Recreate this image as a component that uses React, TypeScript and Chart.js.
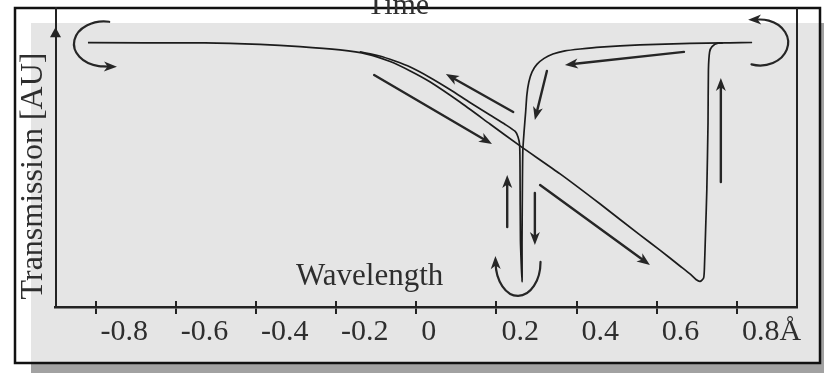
import { useEffect, useRef } from "react";
import { Chart, registerables } from "chart.js";

Chart.register(...registerables);

// Wavelength tick values (Å)
const X_TICKS = [-0.8, -0.6, -0.4, -0.2, 0, 0.2, 0.4, 0.6, 0.8];

// Forward sweep: wavelength (Å) and transmission (AU)
const FORWARD_WL = [
  -0.819, -0.527, -0.39, -0.29, -0.19, -0.123, -0.065, -0.015, 0.034, 0.109, 0.184,
  0.259, 0.359, 0.459, 0.558, 0.608, 0.658, 0.683, 0.698, 0.708, 0.717, 0.719, 0.722,
  0.725, 0.728, 0.729, 0.732, 0.738, 0.753, 0.783, 0.838,
];
const FORWARD_T = [
  0.996, 0.995, 0.989, 0.98, 0.966, 0.949, 0.918, 0.879, 0.834, 0.75, 0.659, 0.568,
  0.452, 0.327, 0.199, 0.136, 0.07, 0.037, 0.014, 0.006, 0.02, 0.062, 0.219, 0.385,
  0.663, 0.883, 0.958, 0.98, 0.994, 0.995, 0.997,
];

// Backward sweep: wavelength (Å) and transmission (AU)
const BACKWARD_WL = [
  0.765, 0.683, 0.558, 0.459, 0.409, 0.371, 0.341, 0.319, 0.301, 0.289, 0.281, 0.276,
  0.273, 0.269, 0.266, 0.265, 0.264, 0.264, 0.26, 0.259, 0.258, 0.254, 0.247, 0.222,
  0.184, 0.134, 0.084, 0.034, -0.015, -0.053, -0.091, -0.141,
];
const BACKWARD_T = [
  0.995, 0.993, 0.987, 0.978, 0.97, 0.962, 0.949, 0.931, 0.906, 0.875, 0.833, 0.779,
  0.709, 0.626, 0.551, 0.427, 0.178, 0.004, 0.178, 0.468, 0.572, 0.605, 0.628, 0.657,
  0.696, 0.748, 0.802, 0.852, 0.895, 0.92, 0.941, 0.958,
];

// Direction arrows along the sweeps: tail -> head, in axis units
const ARROW_TAIL_WL = [-0.105, 0.242, 0.326, 0.668, 0.76, 0.227, 0.296, 0.309];
const ARROW_TAIL_T = [0.862, 0.709, 0.879, 0.958, 0.418, 0.232, 0.373, 0.406];
const ARROW_HEAD_WL = [0.189, 0.074, 0.296, 0.371, 0.76, 0.227, 0.296, 0.583];
const ARROW_HEAD_T = [0.576, 0.866, 0.676, 0.904, 0.85, 0.447, 0.157, 0.074];

// Turn-around loops: centre and radii in axis units, sweep angles in degrees
const LOOP_WL = [-0.779, 0.858, 0.254];
const LOOP_T = [0.991, 0.997, 0.087];
const LOOP_R_WL = [0.0749, 0.0699, 0.0561];
const LOOP_R_T = [0.0933, 0.0954, 0.141];
const LOOP_FROM = [-80, 108, 0];
const LOOP_TO = [-268, -92, 178];
const LOOP_TAIL = [14, 11, 7];

const SERIF = '"Liberation Serif", "Times New Roman", serif';
const INK = "#232323";
const TEXT = "#2e2e2e";

function drawHead(ctx: CanvasRenderingContext2D, x: number, y: number, ang: number, len = 13, half = 5) {
  ctx.save();
  ctx.translate(x, y);
  ctx.rotate(ang);
  ctx.beginPath();
  ctx.moveTo(0, 0);
  ctx.lineTo(-len, -half);
  ctx.lineTo(-len * 0.72, 0);
  ctx.lineTo(-len, half);
  ctx.closePath();
  ctx.fill();
  ctx.restore();
}

const framePlugin = {
  id: "frame",
  beforeDraw(chart: any) {
    const ctx = chart.ctx as CanvasRenderingContext2D;
    const W = chart.width;
    const H = chart.height;
    ctx.save();
    ctx.fillStyle = "#ffffff";
    ctx.fillRect(0, 0, W, H);
    ctx.fillStyle = "#a2a2a2";
    ctx.fillRect(31, 23, W - 31, H - 23);
    ctx.fillStyle = "#e5e5e5";
    ctx.fillRect(31, 23, 788, 339);
    ctx.strokeStyle = "#111";
    ctx.lineWidth = 2.5;
    ctx.strokeRect(15, 8, 805, 355);
    ctx.restore();
  },
  afterDraw(chart: any) {
    const ctx = chart.ctx as CanvasRenderingContext2D;
    const xs = chart.scales.x;
    const ys = chart.scales.y;
    const area = chart.chartArea;
    ctx.save();

    // right frame line and upper halves of the tick marks
    ctx.strokeStyle = INK;
    ctx.lineWidth = 2;
    ctx.beginPath();
    ctx.moveTo(area.right, area.top);
    ctx.lineTo(area.right, area.bottom);
    for (const v of X_TICKS) {
      const px = Math.round(xs.getPixelForValue(v));
      ctx.moveTo(px, area.bottom - 6);
      ctx.lineTo(px, area.bottom);
    }
    ctx.stroke();

    // arrow on the transmission axis
    ctx.fillStyle = INK;
    const ax = area.left;
    const ay = ys.getPixelForValue(1.06);
    ctx.beginPath();
    ctx.moveTo(ax, ay);
    ctx.lineTo(ax - 5.5, ay + 10);
    ctx.lineTo(ax + 5.5, ay + 10);
    ctx.closePath();
    ctx.fill();

    // straight direction arrows
    ctx.strokeStyle = "#262626";
    ctx.fillStyle = "#262626";
    ctx.lineWidth = 2.4;
    ctx.lineCap = "round";
    for (let i = 0; i < ARROW_TAIL_WL.length; i++) {
      const x0 = xs.getPixelForValue(ARROW_TAIL_WL[i]);
      const y0 = ys.getPixelForValue(ARROW_TAIL_T[i]);
      const x1 = xs.getPixelForValue(ARROW_HEAD_WL[i]);
      const y1 = ys.getPixelForValue(ARROW_HEAD_T[i]);
      const ang = Math.atan2(y1 - y0, x1 - x0);
      ctx.beginPath();
      ctx.moveTo(x0, y0);
      ctx.lineTo(x1 - Math.cos(ang) * 8, y1 - Math.sin(ang) * 8);
      ctx.stroke();
      drawHead(ctx, x1, y1, ang);
    }

    // curved turn-around arrows
    ctx.lineWidth = 2.2;
    for (let i = 0; i < LOOP_WL.length; i++) {
      const cx = xs.getPixelForValue(LOOP_WL[i]);
      const cy = ys.getPixelForValue(LOOP_T[i]);
      const rx = Math.abs(xs.getPixelForValue(LOOP_WL[i] + LOOP_R_WL[i]) - cx);
      const ry = Math.abs(ys.getPixelForValue(LOOP_T[i] + LOOP_R_T[i]) - cy);
      const a0 = (LOOP_FROM[i] * Math.PI) / 180;
      const a1 = (LOOP_TO[i] * Math.PI) / 180;
      const back = a1 < a0;
      const ex = cx + rx * Math.cos(a1);
      const ey = cy + ry * Math.sin(a1);
      let dx = -rx * Math.sin(a1);
      let dy = ry * Math.cos(a1);
      if (back) {
        dx = -dx;
        dy = -dy;
      }
      const n = Math.hypot(dx, dy);
      dx /= n;
      dy /= n;
      const tx = ex + dx * LOOP_TAIL[i];
      const ty = ey + dy * LOOP_TAIL[i];
      ctx.beginPath();
      ctx.ellipse(cx, cy, rx, ry, 0, a0, a1, back);
      if (LOOP_TAIL[i] > 8) ctx.lineTo(tx - dx * 8, ty - dy * 8);
      ctx.stroke();
      drawHead(ctx, tx, ty, Math.atan2(dy, dx));
    }

    // text annotations
    ctx.fillStyle = TEXT;
    ctx.textBaseline = "alphabetic";
    ctx.font = `30px ${SERIF}`;
    ctx.textAlign = "center";
    ctx.fillText("Time", 398, 14);
    ctx.font = `31px ${SERIF}`;
    ctx.textAlign = "left";
    ctx.fillText("Wavelength", 296, 285);
    ctx.translate(42, 176);
    ctx.rotate(-Math.PI / 2);
    ctx.font = `32px ${SERIF}`;
    ctx.textAlign = "center";
    ctx.fillText("Transmission [AU]", 0, 0);
    ctx.restore();
  },
};

export default function App() {
  const ref = useRef<HTMLCanvasElement>(null);

  useEffect(() => {
    const canvas = ref.current;
    if (!canvas) return;
    const line = {
      showLine: true,
      borderColor: "#1c1c1c",
      borderWidth: 1.7,
      pointRadius: 0,
      tension: 0.2,
      fill: false,
    };
    const chart = new Chart(canvas, {
      type: "scatter",
      data: {
        datasets: [
          { ...line, label: "forward", data: FORWARD_WL.map((x, i) => ({ x, y: FORWARD_T[i] })) },
          { ...line, label: "backward", data: BACKWARD_WL.map((x, i) => ({ x, y: BACKWARD_T[i] })) },
        ],
      },
      options: {
        animation: false,
        responsive: false,
        devicePixelRatio: 1,
        events: [],
        layout: { padding: { left: 55.5, right: 27, top: 8, bottom: 0 } },
        plugins: { legend: { display: false }, tooltip: { enabled: false } },
        scales: {
          x: {
            type: "linear",
            min: -0.9,
            max: 0.95,
            afterBuildTicks: (s: any) => {
              s.ticks = X_TICKS.map((v) => ({ value: v }));
            },
            afterFit: (s: any) => {
              s.height = 66;
              s.paddingLeft = 0;
              s.paddingRight = 0;
            },
            grid: { display: true, drawOnChartArea: false, drawTicks: true, tickLength: 7, color: INK, lineWidth: 2 },
            border: { display: true, color: INK, width: 2.5 },
            ticks: {
              align: "start",
              labelOffset: 5,
              padding: 0,
              autoSkip: false,
              maxRotation: 0,
              color: TEXT,
              font: { family: SERIF, size: 30 },
              callback: (v: any) => (v === 0.8 ? "0.8Å" : v === 0 ? "0" : Number(v).toFixed(1)),
            },
          },
          y: {
            type: "linear",
            min: -0.1,
            max: 1.14,
            afterFit: (s: any) => {
              s.width = 0;
              s.paddingTop = 0;
              s.paddingBottom = 0;
            },
            grid: { display: false },
            border: { display: true, color: INK, width: 2 },
            ticks: { display: false },
          },
        },
      },
      plugins: [framePlugin],
    } as any);
    return () => chart.destroy();
  }, []);

  return (
    <div style={{ position: "fixed", left: 0, top: 0, width: 824, height: 373 }}>
      <canvas ref={ref} width={824} height={373} style={{ display: "block", width: 824, height: 373 }} />
    </div>
  );
}
